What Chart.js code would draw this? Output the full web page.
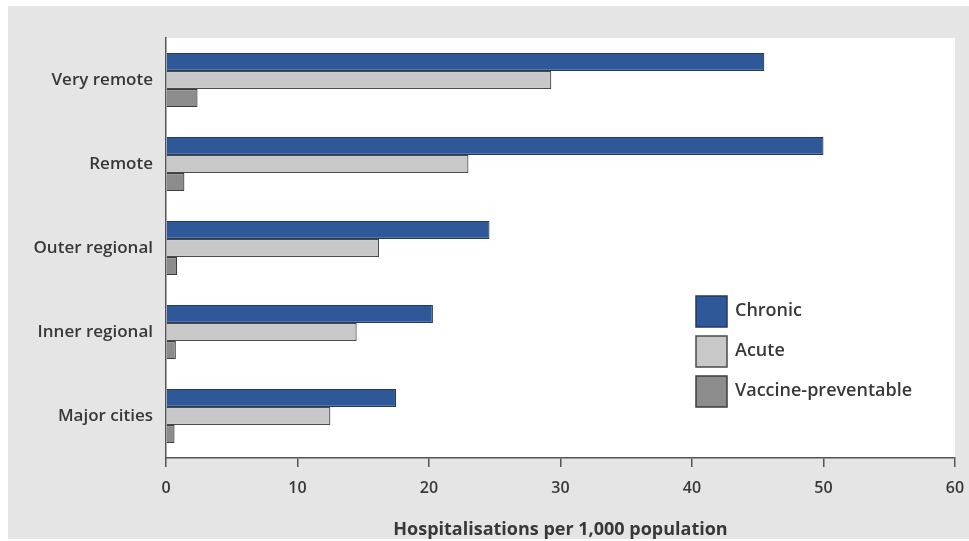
<!DOCTYPE html>
<html>
<head>
<meta charset="utf-8">
<script src="https://cdn.jsdelivr.net/npm/chart.js@4.4.1/dist/chart.umd.min.js"></script>
<style>
  html, body { margin: 0; padding: 0; background: #fff; }
  #wrap { width: 969px; height: 541px; position: relative; }
</style>
</head>
<body>
<div id="wrap"><canvas id="hospChart"></canvas></div>
<script>
// 데이터
const regions = ["Very remote", "Remote", "Outer regional", "Inner regional", "Major cities"];
const seriesNames = ["Chronic", "Acute", "Vaccine-preventable"];
const chronic = [45.5, 50.0, 24.6, 20.3, 17.5];
const acute = [29.3, 23.0, 16.2, 14.5, 12.5];
const vaccine = [2.4, 1.4, 0.85, 0.75, 0.65];
const xTicks = [0, 10, 20, 30, 40, 50, 60];

const fills = ["#2f5899", "#c8c8c8", "#8c8c8c"];
const borders = ["#243a5c", "#4a4a4a", "#3d3d3d"];
const fontFamily = "'Open Sans', 'Noto Sans', sans-serif";
const textColor = "#383838";

// 배경 : 회색 패널 + 흰색 플롯 영역
const backgroundPlugin = {
  id: "panelBackground",
  beforeDraw(chart) {
    const { ctx, chartArea } = chart;
    ctx.save();
    ctx.fillStyle = "#e5e5e5";
    ctx.fillRect(8, 6, chart.width - 8, 533);
    ctx.fillStyle = "#ffffff";
    ctx.fillRect(chartArea.left, chartArea.top, chartArea.right - chartArea.left, chartArea.bottom - chartArea.top);
    ctx.restore();
  },
};

// 범례 : 플롯 영역 안에 직접 그림
const boxLegendPlugin = {
  id: "boxLegend",
  afterDraw(chart) {
    const { ctx } = chart;
    const x = 696;
    let y = 296;
    ctx.save();
    ctx.font = "600 18px " + fontFamily;
    ctx.textBaseline = "middle";
    chart.data.datasets.forEach((ds) => {
      ctx.fillStyle = ds.backgroundColor;
      ctx.fillRect(x, y, 31, 31);
      ctx.strokeStyle = ds.borderColor;
      ctx.lineWidth = 1.5;
      ctx.strokeRect(x, y, 31, 31);
      ctx.fillStyle = textColor;
      ctx.fillText(ds.label, x + 39, y + 15);
      y += 40;
    });
    ctx.restore();
  },
};

const hosp = document.getElementById("hospChart");
const hospChart = new Chart(hosp, {
  type: "bar",
  data: {
    labels: regions,
    datasets: [chronic, acute, vaccine].map((values, i) => ({
      label: seriesNames[i],
      data: values,
      backgroundColor: fills[i],
      borderColor: borders[i],
      borderWidth: 1.2,
      borderSkipped: "start",
      categoryPercentage: 0.645,
      barPercentage: 1.0,
    })),
  },
  options: {
    indexAxis: "y",
    responsive: true,
    maintainAspectRatio: false,
    layout: {
      padding: { left: 0, top: 38, right: 14, bottom: 0 },
    },
    scales: {
      x: {
        min: 0,
        max: 60,
        afterBuildTicks: (scale) => {
          scale.ticks = xTicks.map((v) => ({ value: v }));
        },
        afterFit: (scale) => {
          scale.height = 83;
          scale.paddingLeft = 0;
          scale.paddingRight = 0;
        },
        border: { display: true, color: "#555", width: 1.5 },
        grid: {
          drawOnChartArea: false,
          drawTicks: true,
          tickLength: 9,
          color: "#555",
          lineWidth: 1.5,
        },
        ticks: {
          color: textColor,
          padding: 12,
          maxRotation: 0,
          font: { family: fontFamily, size: 16, weight: "600" },
        },
        title: {
          display: true,
          text: "Hospitalisations per 1,000 population",
          color: textColor,
          padding: { top: 8, bottom: 0 },
          font: { family: fontFamily, size: 18, weight: "bold" },
        },
      },
      y: {
        afterFit: (scale) => {
          scale.width = 166;
        },
        border: { display: true, color: "#555", width: 1.5 },
        grid: { display: false, drawTicks: false },
        ticks: {
          color: textColor,
          padding: 13,
          font: { family: fontFamily, size: 17, weight: "600" },
        },
      },
    },
    plugins: {
      legend: { display: false },
      tooltip: { enabled: false },
    },
    animation: { duration: 0 },
  },
  plugins: [backgroundPlugin, boxLegendPlugin],
});
</script>
</body>
</html>
